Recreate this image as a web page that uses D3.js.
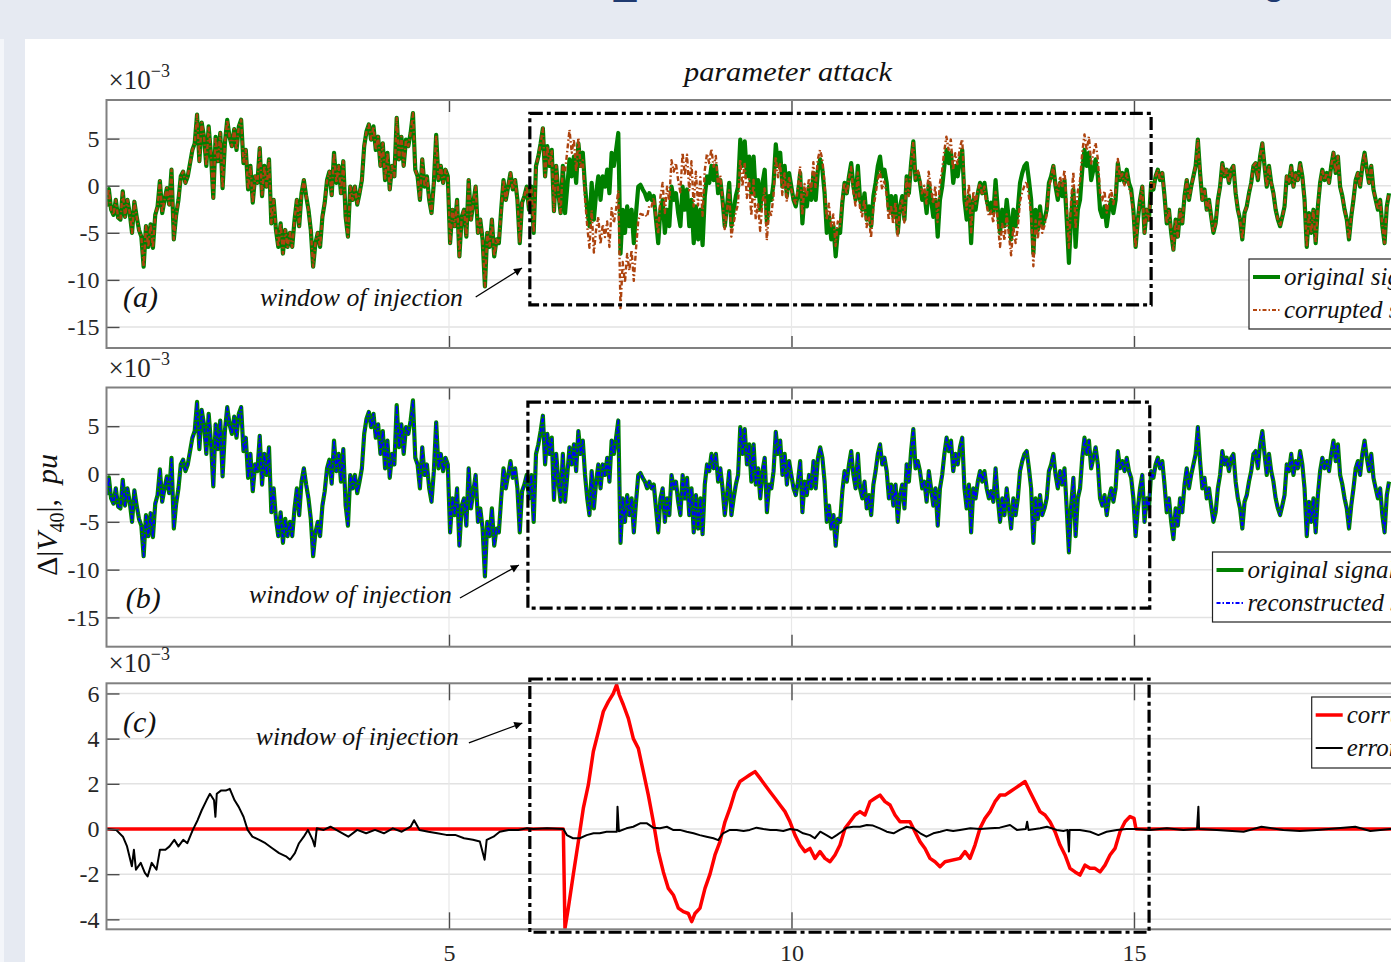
<!DOCTYPE html>
<html>
<head>
<meta charset="utf-8">
<script src="https://cdn.jsdelivr.net/npm/d3@7"></script>
<style>
  body { margin: 0; background: #e6eaf2; overflow: hidden; }
  svg { display: block; }
</style>
</head>
<body>
<svg id="chart" width="1391" height="962"></svg>
<script>
// ---- data (x in s, y in 1e-3 pu) ----
const xTicks = [5, 10, 15];
const yTicksAB = [-15, -10, -5, 0, 5];
const yTicksC = [-4, -2, 0, 2, 4, 6];

// original signal, read in three stretches (time span + evenly spaced samples)
const origSpan1 = [0.0, 6.304];
const origValues1 = [
  -2.2,-0.35,-2.55,-3.1,-1.5,-3.4,-3.6,-0.6,-3.3,-1.5,
  -2.9,-5.0,-1.7,-3.3,-4.7,-5.4,-8.6,-4.3,-6.5,-4.1,
  -6.6,-3.1,-2.2,0.5,-2.9,-1.5,-0.25,-2.0,1.7,-5.7,
  -3.1,-1.5,1.0,1.5,0.3,1.0,2.4,3.8,4.5,7.55,
  2.6,6.7,5.2,2.1,6.3,3.3,-1.3,5.2,2.6,5.6,
  -0.25,4.5,7.0,5.2,4.2,6.0,3.8,6.3,7.0,2.4,
  3.8,-0.4,2.1,-1.8,1.0,0.3,4.0,-1.1,2.1,-0.1,
  2.8,-4.0,-1.5,-4.7,-6.5,-4.0,-7.2,-4.7,-6.5,-5.0,
  -6.5,-3.6,-1.5,-4.3,-0.8,0.6,-1.1,-2.55,-4.7,-8.6,
  -6.1,-5.0,-6.5,-3.3,-1.8,0.6,1.5,-1.0,3.5,0.3,
  2.1,-0.8,2.6,-3.3,-5.4,-0.1,-1.5,-0.1,-2.0,-0.8,
  0.6,4.2,5.8,6.5,4.9,6.3,3.8,5.2,2.1,4.5,
  0.6,3.5,-0.4,2.1,1.0,7.2,2.8,5.2,2.1,4.9,
  4.2,5.6,7.7,1.7,1.0,-1.5,2.8,-0.1,1.0,-1.5,
  -2.9,0.3,5.4,0.6,2.1,0.3,1.7,1.0,-6.1,-2.55,
  -4.3,-1.5,-7.5,-3.3,-2.55,-5.4,0.6,-3.6,-1.8,-0.1,
  -5.0,-3.6,-5.7,-10.7,-5.0,-6.5,-3.6,-7.5,-5.7,-6.1,
  -2.55,0.6,-1.5,-0.1,1.35,-0.4,0.6,-1.5,-6.1,-1.8,
  -1.1,-0.1,-2.55,-0.1,-5.0,2.1,3.1
];
const origSpan2 = [6.338, 12.426];
const origValues2 = [
  4.5,6.1,1.0,4.2,2.1,3.8,-2.7,2.1,-0.8,-2.9,
  2.1,-2.9,-0.1,2.8,1.0,3.1,0.3,4.5,2.1,3.5,
  -0.1,-2.55,-4.3,0.3,-3.6,-0.8,1.0,-1.5,1.0,-0.1,
  1.7,-0.8,3.5,2.1,3.8,5.6,-7.2,-2.55,-5.0,-2.2,
  -4.3,-2.55,-6.1,-2.9,-0.1,0.1,-0.4,-0.8,-1.5,-0.8,
  -1.5,-1.1,-3.6,-6.1,-2.55,-1.5,-5.0,-2.55,-4.3,-0.1,
  -1.5,-0.8,-2.9,-4.3,-0.1,-2.55,-0.4,-4.3,-1.5,-6.1,
  -2.2,-5.7,-2.55,-6.3,-1.1,1.0,0.3,2.1,0.6,2.1,
  -0.8,0.6,-1.5,-4.3,-2.2,0.3,-4.3,-2.55,-1.1,-0.1,
  4.9,2.1,4.7,1.0,3.1,-0.8,3.1,-1.1,0.6,-2.55,
  0.3,1.7,-4.0,-1.1,-1.5,0.3,4.4,2.1,3.5,-0.1,
  2.1,-1.1,1.35,-0.1,-1.5,-2.2,-0.8,1.35,-4.0,-0.8,
  -2.2,-0.1,-1.5,1.35,-1.5,1.7,2.8,1.7,-0.8,-5.0,
  -3.3,-5.7,-4.3,-7.5,-4.7,-5.0,-1.8,0.3,-0.8,1.0,
  2.4,-0.1,-1.5,2.1,-1.5,-2.55,-0.8,-3.6,-2.2,-4.3,
  -1.1,0.3,2.1,3.1,1.0,1.7,0.3,-2.55,-1.1,-3.3,
  -1.1,-5.0,-2.2,-1.1,-3.6,1.0,-0.8,2.4,4.7,0.6,
  1.35,0.3,-1.5,-0.8,-2.9,0.3,-1.5,-3.3,-1.5,-5.4,
  -1.5,-0.1,2.1,3.8,2.4,3.5,0.3,2.1,1.0
];
const origSpan3 = [12.460, 18.723];
const origValues3 = [
  2.8,3.8,-1.5,-3.6,-1.1,-6.1,-1.5,-2.55,-0.8,0.3,
  -0.8,0.3,-1.5,-2.55,-1.8,-2.9,0.6,-2.55,-5.0,-2.55,
  -4.3,-1.5,-3.6,-5.7,-2.55,-4.3,-2.55,0.3,1.35,2.1,
  2.4,0.6,-1.5,-7.2,-2.55,-4.7,-2.2,-4.3,-3.6,-2.55,
  0.3,1.0,2.1,-0.1,-1.5,0.3,-1.1,0.6,-3.6,-8.2,
  -3.3,-0.4,-6.5,-2.55,-1.5,1.7,3.8,2.1,3.5,0.6,
  1.7,2.8,1.0,-2.55,-3.3,-2.2,-4.3,-2.55,-1.5,-2.9,
  -1.5,2.4,0.6,1.35,0.3,1.7,0.3,-0.4,-2.55,-6.5,
  -3.6,-1.5,-0.1,-5.0,-2.55,-3.6,0.3,-0.4,1.0,1.7,
  0.6,1.35,-1.1,-4.0,-2.55,-5.0,-6.8,-3.6,-5.4,-2.55,
  -4.0,-1.1,0.6,-1.5,-0.1,1.0,2.1,4.9,1.35,-1.5,
  -0.4,-2.55,-1.5,-3.3,-5.0,-4.0,-1.5,-0.1,2.4,1.0,
  1.7,0.3,1.7,2.1,-0.8,-2.55,-3.6,-5.7,-2.9,-2.2,
  -0.8,0.3,2.1,2.4,0.6,3.1,4.5,2.1,-0.1,2.1,
  0.3,-0.8,-2.55,-3.6,-4.3,-3.3,-2.2,1.0,0.3,2.1,
  -0.1,1.35,0.6,2.4,1.0,-1.5,-6.5,-2.9,-5.0,-2.55,
  -6.1,-2.2,0.3,1.7,0.6,1.35,0.3,2.1,3.5,1.35,
  3.1,-0.1,-1.1,-2.55,-3.6,-5.7,-3.3,-1.5,0.6,1.35,
  -0.1,2.1,3.5,1.7,0.3,2.1,-0.4,-1.5,-2.55,-1.5,
  -4.3,-6.1,-2.2,-0.8
];

// corrupted signal where it leaves the original (inside the window)
const corruptedSpan1 = [6.662, 12.423];
const corruptedValues1 = [
  2.1,1.5,3.7,5.95,3.5,4.9,1.5,5.1,2.0,2.7,
  -1.4,-4.3,-6.6,-2.6,-7.1,-4.7,-3.3,-6.2,-4.1,-5.45,
  -3.8,-6.5,-2.4,-3.95,-2.5,-0.5,-13.0,-8.1,-10.3,-7.25,
  -9.0,-6.85,-10.1,-6.7,-3.7,-3.0,-3.1,-3.0,-3.3,-2.1,
  -2.2,-1.3,-3.2,-5.1,-1.2,0.3,-2.9,-0.1,-1.6,2.7,
  1.5,2.4,0.6,-0.7,3.5,1.1,3.3,-0.5,2.6,-2.2,
  1.5,-2.1,0.9,-3.2,1.6,3.4,2.4,3.9,2.0,3.15,
  0.0,1.1,-1.4,-4.6,-2.75,-0.5,-5.4,-4.0,-2.8,-2.0,
  2.8,-0.1,2.45,-1.3,0.7,-3.2,0.6,-3.6,-1.8,-4.8,
  -1.8,-0.3,-5.8,-2.8,-3.1,-1.15,3.1,0.9,2.45,-1.0,
  1.3,-1.7,0.95,-0.3,-1.4,-1.9,-0.3,2.05,-3.15,0.2,
  -1.25,0.8,-0.55,2.5,-0.25,2.8,3.8,2.85,0.45,-3.65,
  -1.9,-4.3,-3.05,-6.4,-3.8,-4.3,-1.4,0.35,-0.9,0.75,
  2.0,-0.6,-2.1,1.4,-2.3,-3.25,-1.45,-4.4,-3.25,-5.55,
  -2.4,-1.05,0.65,1.6,-0.4,0.45,-0.85,-3.65,-2.05,-4.1,
  -1.7,-5.45,-2.55,-1.4,-3.9,0.7,-1.1,2.15,4.65,0.75,
  1.7,0.85,-0.8,0.0,-1.9,1.5,-0.15,-1.9,0.0,-3.85,
  0.15,1.5,3.6,5.2,3.8,4.9,1.65,3.45,2.3
];
const corruptedSpan2 = [12.460, 15.056];
const corruptedValues2 = [
  4.1,4.95,-0.45,-2.5,0.15,-4.95,-0.6,-1.9,-0.5,0.25,
  -1.0,-0.1,-2.1,-3.25,-2.65,-3.95,-0.65,-3.9,-6.5,-4.05,
  -5.8,-3.05,-5.2,-7.4,-4.3,-6.1,-4.45,-1.65,-0.65,0.0,
  0.45,-1.15,-3.05,-8.55,-3.7,-5.65,-2.95,-5.0,-4.25,-3.05,
  -0.1,0.8,2.1,0.1,-1.05,1.0,-0.2,1.7,-2.25,-6.6,
  -1.5,1.45,-4.6,-0.55,0.55,3.55,5.45,3.75,5.2,2.35,
  3.45,4.55,2.85,-0.65,-1.55,-0.55,-2.85,-1.3,-0.4,-1.95,
  -0.7,2.85,0.7,1.25,0.05,1.3,-0.2,-0.95,-3.05,-6.55,
  -3.6
];

// panel (c): corruption [t, value]
const corruption = [
  [0,0],[6.669,0],[6.693,-4.4],[6.742,-3.5],[6.815,-2.0],[6.888,-0.56],[6.961,0.92],
  [7.034,1.95],[7.107,3.43],[7.180,4.3],[7.253,5.2],[7.326,5.64],[7.399,6.0],[7.447,6.38],
  [7.486,5.94],[7.545,5.5],[7.618,4.9],[7.691,4.0],[7.764,3.57],[7.837,2.54],[7.910,1.5],
  [7.983,0.32],[8.056,-1.0],[8.129,-1.9],[8.202,-2.63],[8.275,-2.92],[8.348,-3.5],[8.421,-3.66],
  [8.494,-3.74],[8.543,-4.1],[8.591,-3.74],[8.664,-3.5],[8.737,-2.63],[8.810,-2.0],[8.883,-1.15],
  [8.956,-0.56],[9.029,0.32],[9.102,0.92],[9.175,1.65],[9.248,2.1],[9.321,2.25],[9.394,2.4],
  [9.467,2.54],[9.540,2.25],[9.613,1.95],[9.686,1.65],[9.759,1.36],[9.832,1.06],[9.905,0.77],
  [9.978,0.32],[10.051,-0.27],[10.124,-0.71],[10.197,-1.0],[10.270,-0.86],[10.343,-1.3],
  [10.416,-1.0],[10.489,-1.3],[10.562,-1.45],[10.635,-1.15],[10.708,-0.71],[10.781,0.03],
  [10.854,0.32],[10.927,0.62],[11.000,0.77],[11.073,0.62],[11.146,1.21],[11.219,1.36],
  [11.292,1.5],[11.365,1.21],[11.438,1.06],[11.511,0.62],[11.584,0.32],[11.657,0.32],
  [11.730,0.32],[11.803,-0.12],[11.876,-0.56],[11.949,-0.86],[12.022,-1.3],[12.095,-1.45],
  [12.168,-1.67],[12.241,-1.45],[12.460,-1.3],[12.533,-1.0],[12.606,-1.3],[12.679,-0.71],
  [12.752,0.03],[12.825,0.47],[12.898,0.77],[12.971,1.21],[13.044,1.5],[13.117,1.5],
  [13.190,1.65],[13.263,1.8],[13.336,1.95],[13.409,2.1],[13.482,1.65],[13.555,1.21],
  [13.628,0.77],[13.701,0.62],[13.774,0.32],[13.847,-0.12],[13.920,-0.71],[13.993,-1.15],
  [14.066,-1.74],[14.139,-1.9],[14.212,-2.04],[14.285,-1.6],[14.358,-1.74],[14.431,-1.74],
  [14.504,-1.9],[14.577,-1.6],[14.650,-1.15],[14.723,-0.86],[14.796,-0.12],[14.869,0.32],
  [14.942,0.55],[15.000,0.47],[15.029,0],[20,0]
];

// panel (c): reconstruction error [t, value]
const reconError = [
  [0.01,0],[0.14,-0.04],[0.24,-0.34],[0.30,-0.77],[0.37,-1.65],[0.40,-0.92],[0.43,-1.8],
  [0.50,-1.5],[0.56,-1.94],[0.60,-2.1],[0.66,-1.5],[0.73,-1.8],[0.78,-0.92],[0.86,-0.92],
  [0.92,-0.77],[0.99,-0.48],[1.05,-0.77],[1.12,-0.48],[1.18,-0.63],[1.26,-0.04],[1.33,0.39],
  [1.39,0.83],[1.46,1.27],[1.51,1.56],[1.57,1.27],[1.59,0.54],[1.61,1.56],[1.67,1.7],
  [1.74,1.7],[1.80,1.78],[1.87,1.27],[1.93,0.98],[2.00,0.54],[2.06,-0.04],[2.13,-0.34],
  [2.23,-0.48],[2.32,-0.63],[2.42,-0.85],[2.52,-1.07],[2.62,-1.21],[2.68,-1.36],[2.75,-1.07],
  [2.81,-0.63],[2.88,-0.34],[2.94,-0.04],[3.01,-0.48],[3.04,-0.77],[3.07,0.03],[3.17,-0.04],
  [3.27,0.1],[3.40,-0.12],[3.53,-0.34],[3.66,-0.04],[3.79,-0.19],[3.92,-0.04],[4.05,-0.19],
  [4.18,0.03],[4.31,-0.12],[4.44,0.1],[4.49,0.39],[4.57,-0.04],[4.70,-0.12],[4.83,-0.19],
  [4.96,-0.26],[5.09,-0.26],[5.22,-0.41],[5.35,-0.48],[5.45,-0.55],[5.52,-1.36],[5.55,-0.48],
  [5.65,-0.34],[5.74,-0.12],[5.87,-0.04],[6.01,-0.04],[6.14,0.03],[6.23,0.0],[6.43,0.03],
  [6.67,0.0],[6.72,-0.27],[6.81,-0.41],[6.91,-0.41],[7.01,-0.27],[7.11,-0.19],[7.20,-0.19],
  [7.30,-0.12],[7.40,-0.12],[7.45,-0.12],[7.46,0.99],[7.48,-0.1],[7.59,0.03],[7.69,0.1],
  [7.79,0.25],[7.89,0.25],[7.98,0.06],[8.08,0.03],[8.18,0.1],[8.27,-0.04],[8.37,-0.04],
  [8.47,-0.12],[8.57,-0.19],[8.66,-0.27],[8.76,-0.34],[8.86,-0.41],[8.93,-0.49],[9.00,-0.19],
  [9.10,-0.04],[9.20,-0.04],[9.30,-0.09],[9.39,-0.04],[9.49,0.06],[9.59,0.0],[9.69,-0.04],
  [9.78,-0.04],[9.88,-0.09],[9.98,0.0],[10.08,-0.04],[10.17,-0.19],[10.27,-0.27],[10.34,-0.41],
  [10.42,-0.12],[10.51,-0.27],[10.59,-0.41],[10.66,-0.27],[10.73,-0.12],[10.81,0.06],[10.90,0.1],
  [11.00,0.1],[11.10,0.18],[11.19,0.15],[11.29,0.03],[11.39,-0.12],[11.49,-0.19],[11.58,-0.04],
  [11.68,0.1],[11.78,0.03],[11.88,-0.19],[11.97,-0.34],[12.07,-0.19],[12.17,-0.12],[12.27,-0.04],
  [12.36,-0.09],[12.46,-0.04],[12.61,0.03],[12.75,0.0],[12.90,0.03],[13.04,0.06],[13.19,0.18],
  [13.29,-0.04],[13.42,0.0],[13.44,0.32],[13.46,-0.04],[13.63,0.03],[13.73,0.1],[13.87,-0.04],
  [13.97,-0.09],[14.03,-0.04],[14.05,-1.0],[14.06,-0.04],[14.21,-0.04],[14.36,-0.12],[14.48,-0.27],
  [14.60,-0.12],[14.75,-0.04],[14.89,0.0],[15.04,0.0],[15.23,-0.04],[15.48,0.03],[15.72,-0.04],
  [15.92,0.0],[15.94,0.99],[15.95,0.0],[16.21,-0.04],[16.60,-0.12],[16.86,0.1],[17.18,-0.04],
  [17.42,-0.09],[17.67,-0.04],[18.23,0.1],[18.45,-0.09],[18.74,0.0],[20,0]
];

// injection window per panel: [t start, t end, y low, y high]
const windowA = [6.18, 15.25, -12.66, 7.69];
const windowB = [6.152, 15.23, -14.02, 7.53];
const windowC = [6.18, 15.22, -4.57, 6.64];

// "window of injection" notes: [text t, text y, arrow from t, y, arrow to t, y]
const noteA = [2.24, -12.77, 5.39, -11.82, 6.066, -8.74];
const noteB = [2.08, -13.5, 5.16, -12.97, 6.02, -9.52];
const noteC = [2.18, 3.72, 5.29, 3.81, 6.07, 4.69];

// ---- drawing ----
const FONT = '"Liberation Serif", "DejaVu Serif", serif';
const svg = d3.select('#chart');

svg.append('rect').attr('width', 1391).attr('height', 962).attr('fill', '#e6eaf2');
svg.append('rect').attr('x', 0).attr('y', 39).attr('width', 4).attr('height', 923).attr('fill', '#f4f6fa');
svg.append('rect').attr('x', 25).attr('y', 39).attr('width', 1366).attr('height', 923).attr('fill', '#fff');
// bits of the slide heading, cut by the top edge
svg.append('text').attr('x', 614).attr('y', -6).attr('font-family', 'Liberation Sans, sans-serif')
  .attr('font-size', 40).attr('fill', '#1f3a70').text('_');
svg.append('text').attr('x', 1263).attr('y', -6).attr('font-family', 'Liberation Sans, sans-serif')
  .attr('font-size', 40).attr('fill', '#1f3a70').text('g');

const defs = svg.append('defs');
defs.append('marker').attr('id', 'arrow').attr('viewBox', '0 0 10 10')
  .attr('refX', 10).attr('refY', 5).attr('markerWidth', 11).attr('markerHeight', 8)
  .attr('markerUnits', 'userSpaceOnUse').attr('orient', 'auto')
  .append('path').attr('d', 'M0,0L10,5L0,10z').attr('fill', '#000');

const x = d3.scaleLinear().domain([0, 20]).range([106.5, 1476.5]);

function seriesPoints(span, values) {
  const step = (span[1] - span[0]) / (values.length - 1);
  return values.map((v, i) => [span[0] + i * step, v]);
}
const orig1 = seriesPoints(origSpan1, origValues1);
const orig2 = seriesPoints(origSpan2, origValues2);
const orig3 = seriesPoints(origSpan3, origValues3);
const original = orig1.concat(orig2, orig3);
const corrupted = orig1.concat(
  orig2.slice(0, 10),
  seriesPoints(corruptedSpan1, corruptedValues1),
  seriesPoints(corruptedSpan2, corruptedValues2),
  orig3.slice(81)
);

const panels = [
  { id: 'a', top: 100, bottom: 348, yDomain: [-17.23, 9.1], yTicks: yTicksAB, xTickLen: 12, xLabels: false,
    win: windowA, note: noteA, label: '(a)', labelPos: [0.24, -12.9],
    series: [
      { data: original, color: '#008000', width: 4.2, dash: null },
      { data: corrupted, color: '#ad430e', width: 2.4, dash: '5,2.5,1.5,2.5' }
    ],
    legend: { x: 1249, y: 259, h: 70, entries: [
      { text: 'original signal', color: '#008000', width: 4, dash: null },
      { text: 'corrupted signal', color: '#b4460f', width: 2, dash: '4,2,1.5,2' }
    ] } },
  { id: 'b', top: 387.5, bottom: 646.7, yDomain: [-18.06, 9.05], yTicks: yTicksAB, xTickLen: 12, xLabels: false,
    win: windowB, note: noteB, label: '(b)', labelPos: [0.28, -14.0],
    series: [
      { data: original, color: '#008000', width: 4.2, dash: null },
      { data: original, color: '#0000ff', width: 1.8, dash: '4,2,1.5,2' }
    ],
    legend: { x: 1212.5, y: 552, h: 70, entries: [
      { text: 'original signal', color: '#008000', width: 4, dash: null },
      { text: 'reconstructed signal', color: '#0000ff', width: 2, dash: '4,2,1.5,2' }
    ] } },
  { id: 'c', top: 683.3, bottom: 929.3, yDomain: [-4.44, 6.45], yTicks: yTicksC, xTickLen: 17, xLabels: true,
    win: windowC, note: noteC, label: '(c)', labelPos: [0.24, 4.29],
    series: [
      { data: corruption, color: '#ff0000', width: 3.5, dash: null },
      { data: reconError, color: '#000000', width: 2, dash: null }
    ],
    legend: { x: 1311.7, y: 697, h: 71, entries: [
      { text: 'corruption', color: '#ff0000', width: 3.5, dash: null },
      { text: 'error', color: '#000000', width: 2, dash: null }
    ] } }
];

panels.forEach(p => {
  const y = d3.scaleLinear().domain(p.yDomain).range([p.bottom, p.top]);
  const g = svg.append('g');
  const left = x(0), width = x(20) - x(0), height = p.bottom - p.top;

  defs.append('clipPath').attr('id', 'clip-' + p.id)
    .append('rect').attr('x', left).attr('y', p.top).attr('width', width).attr('height', height);

  // grid
  g.append('g').selectAll('line').data(p.yTicks).join('line')
    .attr('x1', left).attr('x2', left + width).attr('y1', d => y(d)).attr('y2', d => y(d))
    .attr('stroke', '#e2e2e2').attr('stroke-width', 1.5);
  g.append('g').selectAll('line').data(xTicks).join('line')
    .attr('x1', d => x(d)).attr('x2', d => x(d)).attr('y1', p.top).attr('y2', p.bottom)
    .attr('stroke', '#e8e8e8').attr('stroke-width', 1.2);

  // signals
  const line = d3.line().x(d => x(d[0])).y(d => y(d[1]));
  const lines = g.append('g').attr('clip-path', 'url(#clip-' + p.id + ')');
  p.series.forEach(s => {
    lines.append('path').attr('d', line(s.data)).attr('fill', 'none')
      .attr('stroke', s.color).attr('stroke-width', s.width)
      .attr('stroke-linejoin', 'round')
      .attr('stroke-dasharray', s.dash);
  });

  // axes
  const yAxis = d3.axisLeft(y).tickValues(p.yTicks).tickSize(-13).tickPadding(7).tickFormat(d => String(d));
  const ya = g.append('g').attr('transform', `translate(${left},0)`).call(yAxis);
  const xb = d3.axisBottom(x).tickValues(xTicks).tickSize(-p.xTickLen).tickPadding(15)
    .tickFormat(p.xLabels ? (d => String(d)) : () => '');
  const xa = g.append('g').attr('transform', `translate(0,${p.bottom})`).call(xb);
  const xt = g.append('g').attr('transform', `translate(0,${p.top})`)
    .call(d3.axisTop(x).tickValues(xTicks).tickSize(-p.xTickLen).tickFormat(() => ''));
  [ya, xa, xt].forEach(a => {
    a.select('.domain').remove();
    a.attr('font-family', FONT).attr('font-size', 24).attr('color', '#262626');
    a.selectAll('.tick line').attr('stroke', '#4d4d4d').attr('stroke-width', 1.4);
  });

  g.append('rect').attr('x', left).attr('y', p.top).attr('width', width).attr('height', height)
    .attr('fill', 'none').attr('stroke', '#808080').attr('stroke-width', 2);

  // exponent label
  const ex = g.append('text').attr('x', left + 2).attr('y', p.top - 11)
    .attr('font-family', FONT).attr('font-size', 27).attr('fill', '#262626');
  ex.append('tspan').text('\u00d710');
  ex.append('tspan').attr('font-size', 18).attr('dy', -12).text('\u22123');

  // injection window
  g.append('rect')
    .attr('x', x(p.win[0])).attr('y', y(p.win[3]))
    .attr('width', x(p.win[1]) - x(p.win[0])).attr('height', y(p.win[2]) - y(p.win[3]))
    .attr('fill', 'none').attr('stroke', '#000').attr('stroke-width', 3.2)
    .attr('stroke-dasharray', '13,4,4,4');

  // note + arrow
  g.append('text').attr('x', x(p.note[0])).attr('y', y(p.note[1]))
    .attr('font-family', FONT).attr('font-style', 'italic').attr('font-size', 25)
    .attr('textLength', 203).attr('lengthAdjust', 'spacingAndGlyphs')
    .attr('fill', '#111').text('window of injection');
  g.append('line')
    .attr('x1', x(p.note[2])).attr('y1', y(p.note[3]))
    .attr('x2', x(p.note[4])).attr('y2', y(p.note[5]))
    .attr('stroke', '#000').attr('stroke-width', 1.3).attr('marker-end', 'url(#arrow)');

  // panel letter
  g.append('text').attr('x', x(p.labelPos[0])).attr('y', y(p.labelPos[1]))
    .attr('font-family', FONT).attr('font-style', 'italic').attr('font-size', 30)
    .attr('fill', '#111').text(p.label);

  // legend
  const L = p.legend;
  const lg = g.append('g');
  lg.append('rect').attr('x', L.x).attr('y', L.y).attr('width', 400).attr('height', L.h)
    .attr('fill', '#fff').attr('stroke', '#222').attr('stroke-width', 1.2);
  L.entries.forEach((e, i) => {
    const cy = L.y + 18 + i * 33;
    lg.append('line').attr('x1', L.x + 4).attr('x2', L.x + 31).attr('y1', cy).attr('y2', cy)
      .attr('stroke', e.color).attr('stroke-width', e.width).attr('stroke-dasharray', e.dash);
    lg.append('text').attr('x', L.x + 35).attr('y', cy).attr('dy', '0.3em')
      .attr('font-family', FONT).attr('font-style', 'italic').attr('font-size', 25)
      .attr('fill', '#111').text(e.text);
  });
});

// title
svg.append('text').attr('x', 788).attr('y', 81).attr('text-anchor', 'middle')
  .attr('font-family', FONT).attr('font-style', 'italic').attr('font-size', 27)
  .attr('textLength', 208).attr('lengthAdjust', 'spacingAndGlyphs')
  .attr('fill', '#111').text('parameter attack');

// y label
const yl = svg.append('text').attr('transform', 'translate(57,515) rotate(-90)')
  .attr('text-anchor', 'middle').attr('font-family', FONT).attr('font-size', 30).attr('fill', '#111');
yl.append('tspan').text('\u0394|');
yl.append('tspan').attr('font-style', 'italic').text('V');
yl.append('tspan').attr('font-size', 20).attr('dy', 7).text('40');
yl.append('tspan').attr('dy', -7).text('|,\u00a0\u00a0');
yl.append('tspan').attr('font-style', 'italic').text('pu');
</script>
</body>
</html>
